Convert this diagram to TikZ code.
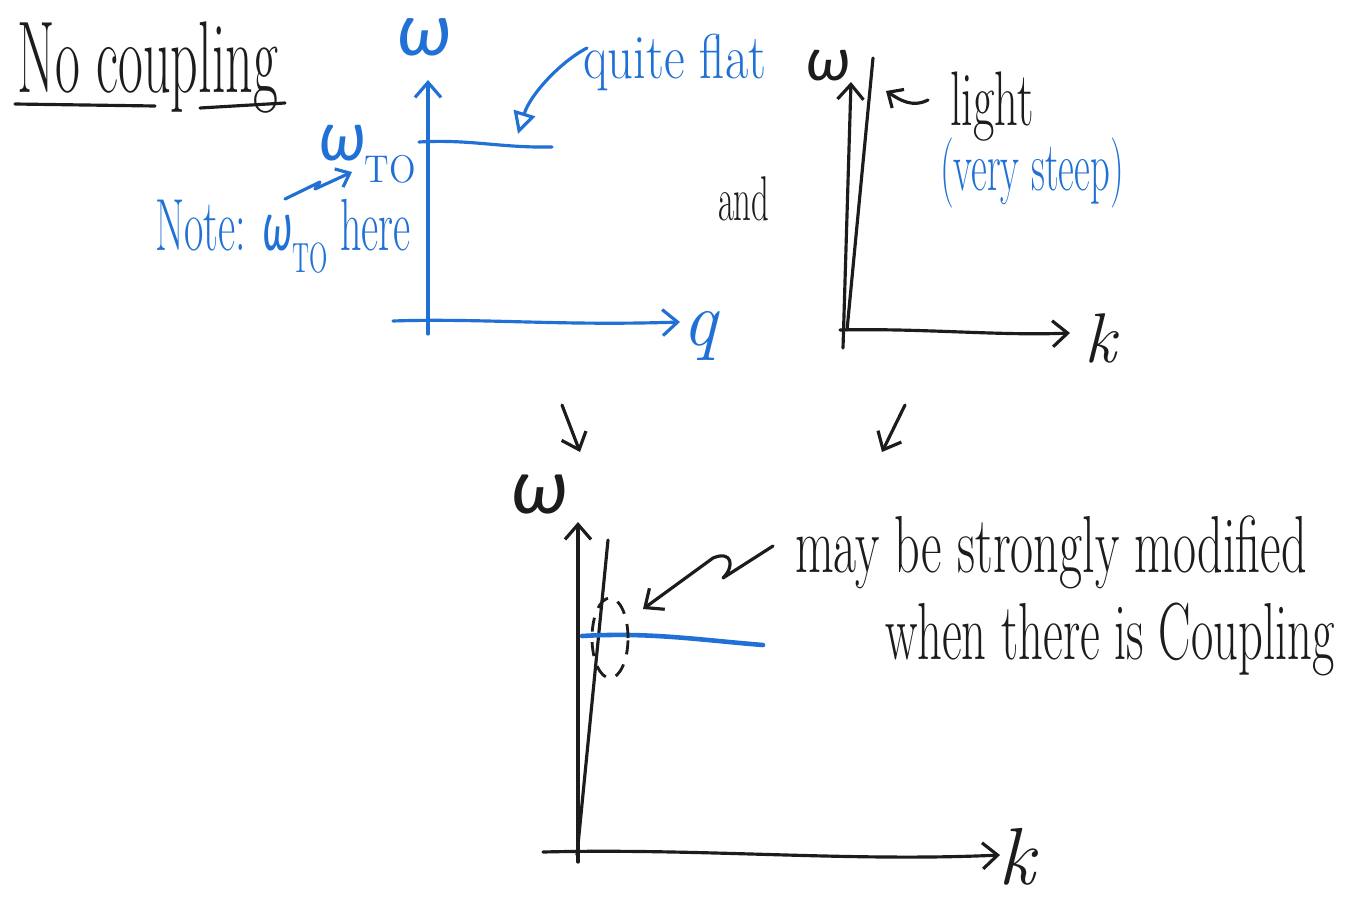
\documentclass[tikz,border=0pt]{standalone}
\usepackage{fontspec}
\usepackage{graphicx}
\usetikzlibrary{arrows.meta,shapes.geometric}
\newfontfamily\gk{Carlito}
\definecolor{pen}{RGB}{32,112,214}
\definecolor{ink}{RGB}{28,28,28}
\newcommand{\hw}[2]{\scalebox{#1}[1]{#2}}
\newcommand{\fs}[1]{\fontsize{#1}{#1}\selectfont}
\newcommand{\om}{{\gk\itshape ω}}
\newcommand{\wto}[1]{\om\raisebox{-0.3em}{\fs{#1}TO}}
\tikzset{
  inkline/.style={draw=ink,line width=0.9pt,line cap=round,line join=round},
  penline/.style={draw=pen,line width=0.9pt,line cap=round,line join=round},
  barb/.style={-{Straight Barb[length=1.5mm,width=2.6mm]}},
  txt/.style={inner sep=0pt,outer sep=0pt},
  inktxt/.style={txt,text=ink},
  pentxt/.style={txt,text=pen},
}
\begin{document}
\begin{tikzpicture}[x=0.01cm,y=-0.01cm]
\useasboundingbox[fill=white] (0,0) rectangle (1352,897);

% ---------- title ----------
\node[inktxt,anchor=base west,font=\fs{29}] (title) at (18,92) {\hw{0.53}{No coupling}};
\draw[inkline] (15,104) -- (155,106);
\draw[inkline] (200,108) -- (285,103);

% ---------- panel 1 (blue) ----------
\coordinate (p1ys) at (428,334);
\coordinate (p1ye) at (428,80);
\coordinate (p1xs) at (393,321);
\coordinate (p1xe) at (680,322);
\draw[penline,barb] (p1ys) -- (p1ye);
\draw[penline,barb] (p1xs) .. controls (480,318) and (560,326) .. (p1xe);
\node[pentxt,anchor=base,font=\fs{22}] (w1) at (423,55) {\om};
\node[pentxt,anchor=base,font=\fs{22}] (q1) at (700,345) {\itshape q};
\node[pentxt,anchor=base east,font=\fs{21}] (wto) at (416,160) {\hw{0.9}{\wto{11}}};
\coordinate (flatA) at (419,142);
\coordinate (flatB) at (552,147);
\draw[penline] (flatA) .. controls (470,139) and (500,148) .. (flatB);

\node[pentxt,anchor=base west,font=\fs{18}] (qf) at (583,78) {\hw{0.8}{quite flat}};
\coordinate (qfs) at (587,48);
\coordinate (qfe) at (518,134);
\draw[penline,-{Triangle[open,length=2.2mm,width=2.2mm]}] (qfs) .. controls (560,62) and (530,95) .. (qfe);

\node[pentxt,anchor=base west,font=\fs{21}] (note) at (155,250) {\hw{0.57}{Note: \wto{12} here}};
\coordinate (nz) at (285,199);
\coordinate (nze) at (352,172);
\draw[penline,-{Straight Barb[length=1.2mm,width=2mm]}] (nz) -- (320,182) -- (315,189) -- (nze);

% ---------- "and" ----------
\node[inktxt,anchor=base west,font=\fs{18}] (and) at (718,220) {\hw{0.55}{and}};

% ---------- panel 2 (black) ----------
\coordinate (p2ys) at (843,348);
\coordinate (p2ye) at (851,82);
\coordinate (p2xs) at (840,330);
\coordinate (p2xe) at (1070,333);
\coordinate (lt1) at (847,330);
\coordinate (lt2) at (873,58);
\draw[inkline,barb] (p2ys) -- (p2ye);
\draw[inkline] (lt1) -- (lt2);
\draw[inkline,barb] (p2xs) .. controls (920,328) and (1000,336) .. (p2xe);
\node[inktxt,anchor=base,font=\fs{18}] (w2) at (828,80) {\om};
\node[inktxt,anchor=base,font=\fs{20}] (k2) at (1100,362) {\itshape k};
\node[inktxt,anchor=base west,font=\fs{22}] (light) at (950,125) {\hw{0.6}{light}};
\coordinate (la) at (928,100);
\coordinate (lb) at (886,91);
\draw[inkline,-{Straight Barb[length=1.2mm,width=2.2mm]}] (la) .. controls (912,108) and (900,100) .. (lb);
\node[pentxt,anchor=base west,font=\fs{20}] (steep) at (940,190) {\hw{0.55}{(very steep)}};

% ---------- down arrows ----------
\coordinate (d1a) at (562,405);
\coordinate (d1b) at (580,452);
\coordinate (d2a) at (905,405);
\coordinate (d2b) at (882,452);
\draw[inkline,barb] (d1a) -- (d1b);
\draw[inkline,barb] (d2a) -- (d2b);

% ---------- panel 3 ----------
\coordinate (p3ys) at (578,862);
\coordinate (p3ye) at (578,522);
\coordinate (p3xs) at (543,852);
\coordinate (p3xe) at (1000,855);
\coordinate (l3a) at (577,855);
\coordinate (l3b) at (608,540);
\draw[inkline,barb] (p3ys) -- (p3ye);
\draw[inkline] (l3a) -- (l3b);
\draw[inkline,barb] (p3xs) .. controls (700,848) and (850,862) .. (p3xe);
\node[inktxt,anchor=base,font=\fs{23}] (w3) at (539,513) {\om};
\node[inktxt,anchor=base,font=\fs{23}] (k3) at (1017,884) {\itshape k};
\coordinate (b3a) at (582,636);
\coordinate (b3b) at (763,645);
\draw[pen,line width=1.3pt,line cap=round] (b3a) .. controls (650,632) and (700,640) .. (b3b);
\node[draw=ink,line width=0.8pt,dash pattern=on 4pt off 3pt,ellipse,minimum width=0.36cm,minimum height=0.8cm,inner sep=0pt] (ell) at (610,638) {};

\node[inktxt,anchor=base west,font=\fs{23}] (may) at (795,572) {\hw{0.62}{may be strongly modified}};
\node[inktxt,anchor=base west,font=\fs{23}] (when) at (885,659) {\hw{0.6}{when there is Coupling}};
\coordinate (ca) at (773,546);
\coordinate (cb) at (643,609);
\draw[inkline,barb] (ca) -- (723,578) .. controls (735,566) and (732,550) .. (713,558) -- (cb);
\end{tikzpicture}
\end{document}
